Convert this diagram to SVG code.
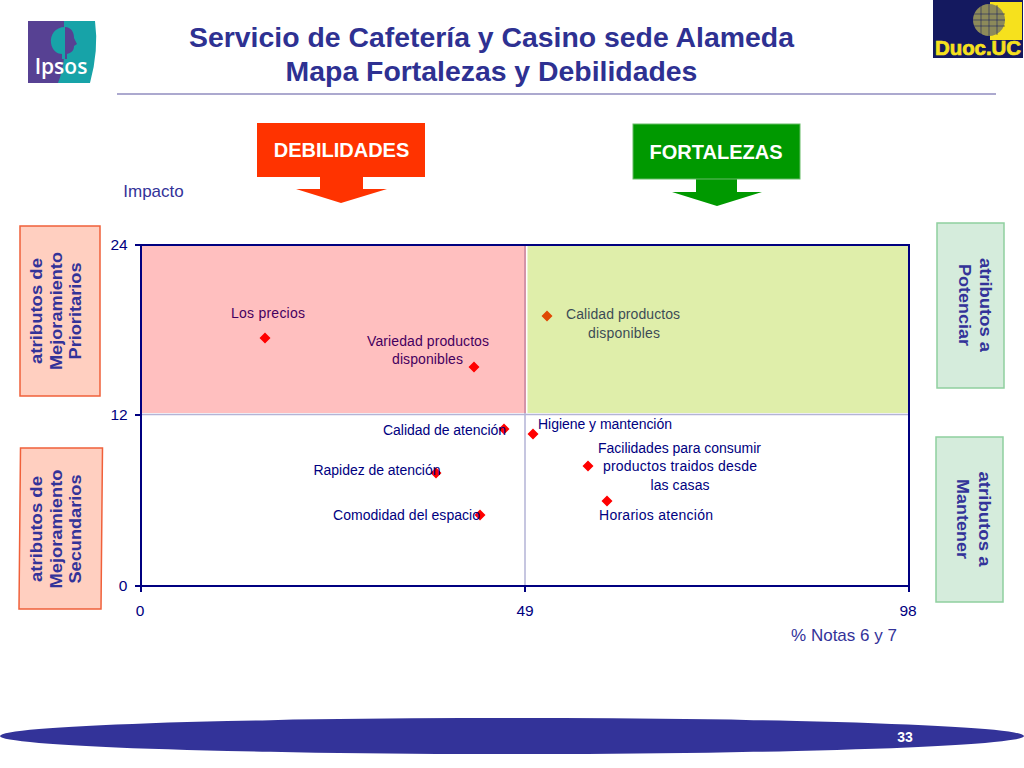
<svg xmlns="http://www.w3.org/2000/svg" width="1024" height="768" viewBox="0 0 1024 768">
<style>
text{font-family:"Liberation Sans",Arial,sans-serif}
.t{font-size:28.4px;font-weight:700;fill:#2e3192;text-anchor:middle}
.b{font-size:20px;font-weight:700;fill:#fff;text-anchor:middle}
.ax{font-size:15.5px;fill:#000080;text-anchor:middle}
.l{font-size:14px;fill:#000080;text-anchor:middle}
.s{font-size:17px;font-weight:700;fill:#333399;text-anchor:middle}
.cap{font-size:17px;fill:#333399;text-anchor:middle}
.axl{stroke:#000080;stroke-width:2;fill:none}
.g{stroke:#b4b4d6;stroke-width:1.5;fill:none}
.p{fill:#ff0000}
.rb{fill:#ffcfc0;stroke:#f0603a;stroke-width:1.5}
.gb{fill:#d5ecdc;stroke:#8fcf9f;stroke-width:1.5}
</style>
<g id="logo-ipsos">
<rect x="28" y="21" width="40" height="62" fill="#574193"/>
<path d="M64 21H95Q99 50 90 83H58Q63 70 64 58Z" fill="#17a3a8"/>
<path d="M65 27C55 27 50 35 51 43C52 51 58 54 62 54V59H65Z" fill="#17a3a8"/>
<path d="M65 27C71 27 74 32 74 38L77 44L74 46C74 51 71 53 67 54V59H65Z" fill="#574193"/>
<text x="61" y="74" font-size="21" font-weight="600" fill="#fff" text-anchor="middle" style="font-family:'Open Sans',sans-serif">Ipsos</text>
</g>
<g id="logo-duoc">
<rect x="933" y="0" width="90" height="58" fill="#14195f"/>
<rect x="990" y="2" width="32" height="38" fill="#f6e11d"/>
<circle cx="989" cy="20" r="16" fill="#8d8a5a"/>
<path d="M973 14H1005M973 20H1005M973 26H1005M981 5V35M989 4V36M997 5V35" stroke="#14195f" stroke-width="1" opacity=".55" fill="none"/>
<text x="978" y="55" font-size="20" font-weight="700" fill="#f6e11d" stroke="#f6e11d" stroke-width=".7" text-anchor="middle" textLength="86" lengthAdjust="spacingAndGlyphs">Duoc.UC</text>
</g>
<g id="title">
<text class="t" x="491.5" y="47">Servicio de Cafetería y Casino sede Alameda</text>
<text class="t" x="491.5" y="81">Mapa Fortalezas y Debilidades</text>
<path d="M117 94H996" stroke="#5b55a0" stroke-width="1.2"/>
</g>
<g id="debilidades">
<path d="M257 123H425V177H363V189H387L341 203L296 189H320V177H257Z" fill="#ff3300"/>
<text class="b" x="341.5" y="157">DEBILIDADES</text>
</g>
<g id="fortalezas">
<path d="M633 124H800V179H737V192H762L717 206L672 192H696V179H633Z" fill="#009900"/>
<rect x="633" y="124" width="167" height="55" fill="none" stroke="#66bb66" stroke-width="1"/>
<text class="b" x="716" y="159">FORTALEZAS</text>
</g>
<g id="chart">
<path class="g" d="M141 414.500H909M525 245V586"/>
<path class="axl" d="M135 245H909V592M135 415H141M135 586H909M141 245V592M525 586V592"/>
<text class="ax" x="119" y="250">24</text>
<text class="ax" x="119" y="420">12</text>
<text class="ax" x="123" y="591">0</text>
<text class="ax" x="140" y="616">0</text>
<text class="ax" x="525" y="616">49</text>
<text class="ax" x="908" y="616">98</text>
<text class="cap" x="153.500" y="197">Impacto</text>
<text class="cap" x="844" y="641">% Notas 6 y 7</text>
</g>
<g id="puntos">
<path class="p" d="M265 332.500l5.500 5.500-5.500 5.500-5.500-5.500zM474 361.500l5.500 5.500-5.500 5.500-5.500-5.500zM547 310.500l5.500 5.500-5.500 5.500-5.500-5.500zM504 423.500l5.500 5.500-5.500 5.500-5.500-5.500zM533 428.500l5.500 5.500-5.500 5.500-5.500-5.500zM436 467.500l5.500 5.500-5.500 5.500-5.500-5.500zM588 460.500l5.500 5.500-5.500 5.500-5.500-5.500zM480 509.500l5.500 5.500-5.500 5.500-5.500-5.500zM607 495.500l5.500 5.500-5.500 5.500-5.500-5.500z"/>
<text class="l" x="268" y="318" textLength="74">Los precios</text>
<text class="l" x="428" y="346" textLength="122">Variedad productos</text>
<text class="l" x="427.500" y="364" textLength="71">disponibles</text>
<text class="l" x="623" y="319" textLength="114">Calidad productos</text>
<text class="l" x="624" y="338" textLength="72">disponibles</text>
<text class="l" x="444.500" y="435" textLength="123">Calidad de atención</text>
<text class="l" x="605" y="429" textLength="134">Higiene y mantención</text>
<text class="l" x="377" y="475" textLength="127">Rapidez de atención</text>
<text class="l" x="679.500" y="453" textLength="163">Facilidades para consumir</text>
<text class="l" x="680" y="471" textLength="154">productos traidos desde</text>
<text class="l" x="680" y="490" textLength="59">las casas</text>
<text class="l" x="406.500" y="520" textLength="147">Comodidad del espacio</text>
<text class="l" x="656" y="520" textLength="114">Horarios atención</text>
</g>
<g id="overlays">
<rect x="142" y="246" width="384" height="167" fill="#ff0000" fill-opacity=".25"/>
<rect x="527.500" y="246" width="380.500" height="167" fill="#a4ce0c" fill-opacity=".35"/>
</g>
<g id="prioritarios">
<rect class="rb" x="20" y="226" width="80" height="170"/>
<text class="s" transform="translate(42 311) rotate(-90)" textLength="106" lengthAdjust="spacingAndGlyphs">atributos de</text>
<text class="s" transform="translate(62 311) rotate(-90)" textLength="118" lengthAdjust="spacingAndGlyphs">Mejoramiento</text>
<text class="s" transform="translate(81 311) rotate(-90)" textLength="97" lengthAdjust="spacingAndGlyphs">Prioritarios</text>
</g>
<g id="secundarios">
<path class="rb" d="M20.500 448H102.500L101 609H19Z"/>
<text class="s" transform="translate(42 529) rotate(-90)" textLength="106" lengthAdjust="spacingAndGlyphs">atributos de</text>
<text class="s" transform="translate(62 529) rotate(-90)" textLength="119" lengthAdjust="spacingAndGlyphs">Mejoramiento</text>
<text class="s" transform="translate(81 529) rotate(-90)" textLength="109" lengthAdjust="spacingAndGlyphs">Secundarios</text>
</g>
<g id="potenciar">
<rect class="gb" x="937" y="223" width="67" height="165"/>
<text class="s" transform="translate(980 305) rotate(90)" textLength="94" lengthAdjust="spacingAndGlyphs">atributos a</text>
<text class="s" transform="translate(959 305) rotate(90)" textLength="82" lengthAdjust="spacingAndGlyphs">Potenciar</text>
</g>
<g id="mantener">
<rect class="gb" x="936" y="437" width="67" height="165"/>
<text class="s" transform="translate(979 519) rotate(90)" textLength="95" lengthAdjust="spacingAndGlyphs">atributos a</text>
<text class="s" transform="translate(957 519) rotate(90)" textLength="80" lengthAdjust="spacingAndGlyphs">Mantener</text>
</g>
<g id="footer">
<ellipse cx="512" cy="736" rx="512" ry="18" fill="#333399"/>
<text x="905" y="742" font-size="14" font-weight="700" fill="#fff" text-anchor="middle">33</text>
</g>
</svg>
